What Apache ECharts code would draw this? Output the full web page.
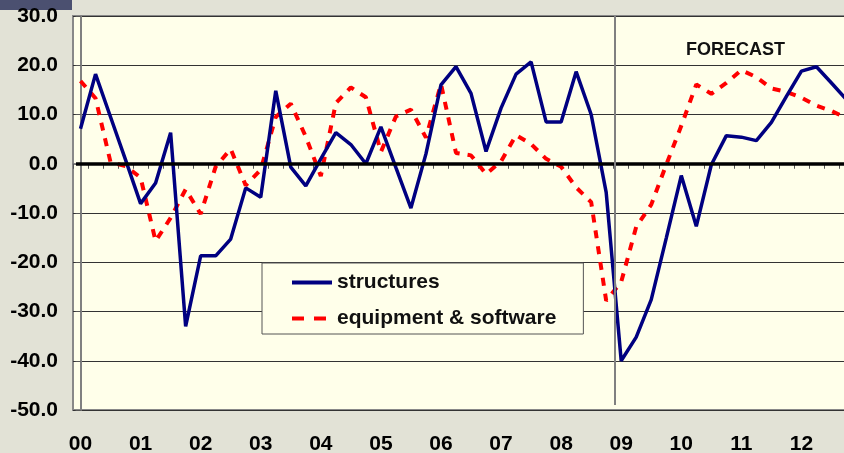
<!DOCTYPE html>
<html>
<head>
<meta charset="utf-8">
<script src="https://cdn.jsdelivr.net/npm/echarts@6/dist/echarts.min.js"></script>
<style>
  html, body { margin: 0; padding: 0; background: #E2E2D6; }
  #main { width: 844px; height: 453px; }
</style>
</head>
<body>
<div id="main"></div>
<script>
    // quarterly data, 2000Q1 .. 2012Q4 (% change, annual rate)
    var years = ['00', '01', '02', '03', '04', '05', '06', '07', '08', '09', '10', '11', '12'];
    var quarters = [];
    years.forEach(function (y) {
        for (var q = 1; q <= 4; q++) quarters.push(y + 'Q' + q);
    });

    var structures = [
        7.1, 18.2, 9.5, 0.8, -8.1, -3.9, 6.3, -33.0,
        -18.7, -18.7, -15.3, -4.9, -6.8, 14.8, -0.7, -4.5,
        1.0, 6.3, 3.9, 0.0, 7.5, -0.8, -9.0, 2.0,
        16.0, 19.7, 14.3, 2.5, 11.3, 18.2, 20.7, 8.5,
        8.5, 18.7, 10.0, -5.8, -40.0, -35.2, -27.6, -15.1,
        -2.4, -12.7, -0.2, 5.7, 5.4, 4.7, 8.4, 13.7,
        18.8, 19.7, 16.4, 13.0
    ];
    var equipment = [
        16.8, 13.3, 0.3, -0.5, -2.8, -15.7, -11.0, -5.2,
        -10.2, -0.6, 3.0, -4.4, -1.2, 9.5, 12.2, 5.5,
        -2.5, 12.3, 15.5, 13.5, 2.4, 9.6, 11.0, 5.3,
        16.2, 2.2, 1.7, -2.1, 0.5, 5.8, 4.0, 1.0,
        -0.6, -4.8, -7.8, -27.8, -24.0, -12.8, -8.3, -0.2,
        7.7, 16.1, 14.2, 16.4, 19.0, 17.6, 15.3, 14.6,
        13.4, 11.8, 10.7, 9.3
    ];

    var yMin = -50, yMax = 30, yStep = 10;
    var forecastAt = 35.6;   // divider between history and forecast, in quarter index units

    var chart = echarts.init(document.getElementById('main'));

    var labelFont = {
        color: '#000',
        fontFamily: 'Liberation Sans, Arial, sans-serif',
        fontWeight: 'bold',
        fontSize: 21
    };

    var option = {
        backgroundColor: '#E2E2D6',
        animation: false,
        title: {
            text: 'FORECAST',
            left: 681,
            top: 36,
            textStyle: {
                color: '#111',
                fontFamily: 'Liberation Sans, Arial, sans-serif',
                fontWeight: 'bold',
                fontSize: 18
            }
        },
        graphic: [{
            type: 'rect',
            left: 0,
            top: 0,
            shape: { width: 72, height: 10 },
            style: { fill: '#4B5070' }
        }],
        legend: {
            data: [
                { name: 'structures', lineStyle: { width: 4 } },
                { name: 'equipment & software', lineStyle: { width: 4, type: [12, 10] } }
            ],
            orient: 'vertical',
            left: 262,
            top: 263,
            padding: [9, 27, 5, 28],
            itemGap: 15,
            itemWidth: 40,
            itemHeight: 14,
            itemStyle: { opacity: 0 },
            backgroundColor: '#FFFFEA',
            borderColor: '#555',
            borderWidth: 1,
            borderRadius: 0,
            textStyle: Object.assign({}, labelFont, { color: '#111', lineHeight: 21 })
        },
        grid: {
            left: 73,
            top: 16,
            bottom: 43,
            right: -10,
            show: true,
            backgroundColor: '#FFFFEA',
            borderColor: '#888',
            borderWidth: 2,
            outerBoundsMode: 'none'
        },
        xAxis: [{
            type: 'category',
            data: quarters,
            boundaryGap: true,
            axisLine: { lineStyle: { color: '#808080', width: 2 } },
            axisTick: { show: true, interval: 0, length: 5, lineStyle: { color: '#555', width: 1 } },
            axisLabel: Object.assign({}, labelFont, {
                interval: 3,
                margin: 24,
                formatter: function (v) { return v.slice(0, 2); }
            }),
            splitLine: { show: false }
        }, {
            type: 'value',
            min: -0.5,
            max: quarters.length - 0.5,
            show: false
        }],
        yAxis: {
            type: 'value',
            min: yMin,
            max: yMax,
            interval: yStep,
            axisLine: { show: true, lineStyle: { color: '#808080', width: 2 } },
            axisTick: { show: true, length: 5, lineStyle: { color: '#555' } },
            axisLabel: Object.assign({}, labelFont, {
                margin: 15,
                formatter: function (v) { return v.toFixed(1); }
            }),
            splitLine: { show: true, lineStyle: { color: '#333', width: 1 } }
        },
        series: [{
            name: 'structures',
            type: 'line',
            data: structures,
            showSymbol: false,
            symbol: 'none',
            z: 4,
            lineStyle: { color: '#000080', width: 3.5 },
            itemStyle: { color: '#000080' }
        }, {
            name: 'equipment & software',
            type: 'line',
            data: equipment,
            showSymbol: false,
            symbol: 'none',
            z: 3,
            lineStyle: { color: '#FF0000', width: 4, type: [8, 8] },
            itemStyle: { color: '#FF0000' }
        }, {
            name: 'guides',
            type: 'line',
            xAxisIndex: 1,
            data: [],
            z: 2,
            markLine: {
                silent: true,
                symbol: ['none', 'none'],
                label: { show: false },
                data: [
                    [{ coord: [-0.3, 0], lineStyle: { color: '#000', width: 3.5, type: 'solid' } },
                     { coord: [quarters.length - 0.5, 0] }],
                    [{ coord: [forecastAt, yMax], lineStyle: { color: '#808080', width: 2, type: 'solid' } },
                     { coord: [forecastAt, yMin + 1] }]
                ]
            }
        }]
    };

    chart.setOption(option);
</script>
</body>
</html>
